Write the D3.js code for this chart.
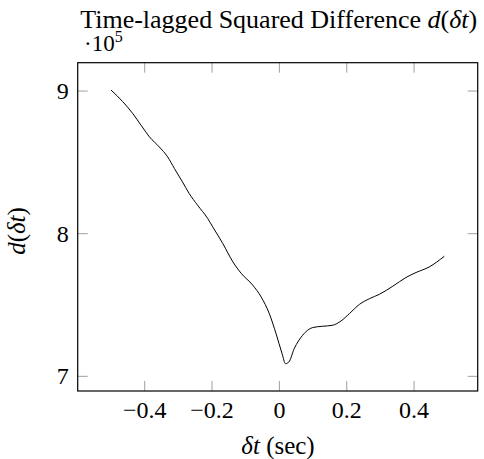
<!DOCTYPE html>
<html>
<head>
<meta charset="utf-8">
<script src="https://cdn.jsdelivr.net/npm/d3@7"></script>
<style>
  body { margin: 0; background: #fff; }
  svg text { font-family: "Liberation Serif", "DejaVu Serif", serif; fill: #000; }
</style>
</head>
<body>
<svg id="chart" width="484" height="459"></svg>
<script>
// lag values (sec) and d(lag) in units of 1e5
const lags = [-0.5, -0.465, -0.436, -0.411, -0.386, -0.357, -0.332, -0.312, -0.288, -0.268,
  -0.243, -0.213, -0.198, -0.168, -0.138, -0.113, -0.079, -0.054, -0.030, -0.010,
  0.008, 0.018, 0.028, 0.044, 0.069, 0.099, 0.128, 0.158, 0.183, 0.208,
  0.238, 0.268, 0.297, 0.337, 0.376, 0.406, 0.445, 0.49];
const dvals = [9.007, 8.925, 8.844, 8.761, 8.679, 8.609, 8.539, 8.458, 8.364, 8.282,
  8.200, 8.107, 8.048, 7.931, 7.802, 7.721, 7.639, 7.556, 7.440, 7.300,
  7.159, 7.089, 7.100, 7.194, 7.288, 7.342, 7.351, 7.358, 7.388, 7.440,
  7.505, 7.545, 7.575, 7.632, 7.693, 7.728, 7.767, 7.842];
const xTicks = [-0.4, -0.2, 0, 0.2, 0.4];
const yTicks = [7, 8, 9];

const svg = d3.select("#chart");
const plotL = 77.7, plotR = 477.7, plotT = 62.7, plotB = 391;

// pgfplots style: enlarge limits by 10% of the data range
const xr = d3.extent(lags), yr = d3.extent(dvals);
const xPad = (xr[1] - xr[0]) * 0.1, yPad = (yr[1] - yr[0]) * 0.1;
const x = d3.scaleLinear().domain([xr[0] - xPad, xr[1] + xPad]).range([plotL, plotR]);
const y = d3.scaleLinear().domain([yr[0] - yPad, yr[1] + yPad]).range([plotB, plotT]);

const tickLen = 10;
const tickCol = "#a0a0a0";
const tickFont = 24;

// ticks on all four sides, pointing inward
const g = svg.append("g");
xTicks.forEach(t => {
  g.append("line").attr("x1", x(t)).attr("x2", x(t)).attr("y1", plotB).attr("y2", plotB - tickLen)
    .attr("stroke", tickCol).attr("stroke-width", 1);
  g.append("line").attr("x1", x(t)).attr("x2", x(t)).attr("y1", plotT).attr("y2", plotT + tickLen)
    .attr("stroke", tickCol).attr("stroke-width", 1);
  svg.append("text").attr("x", x(t)).attr("y", plotB + 27)
    .attr("text-anchor", "middle").attr("font-size", tickFont)
    .text(t === 0 ? "0" : (t < 0 ? "\u2212" : "") + Math.abs(t).toFixed(1));
});
yTicks.forEach(t => {
  g.append("line").attr("x1", plotL).attr("x2", plotL + tickLen).attr("y1", y(t)).attr("y2", y(t))
    .attr("stroke", tickCol).attr("stroke-width", 1);
  g.append("line").attr("x1", plotR).attr("x2", plotR - tickLen).attr("y1", y(t)).attr("y2", y(t))
    .attr("stroke", tickCol).attr("stroke-width", 1);
  svg.append("text").attr("x", plotL - 9).attr("y", y(t) + 8)
    .attr("text-anchor", "end").attr("font-size", tickFont).text(t);
});

// the curve
const line = d3.line().x((d, i) => x(lags[i])).y(d => y(d)).curve(d3.curveMonotoneX);
svg.append("path").datum(dvals).attr("d", line)
  .attr("fill", "none").attr("stroke", "#000").attr("stroke-width", 1);

// frame
svg.append("rect").attr("x", plotL).attr("y", plotT).attr("width", plotR - plotL).attr("height", plotB - plotT)
  .attr("fill", "none").attr("stroke", "#000").attr("stroke-width", 1.2);

// title
const title = svg.append("text").attr("x", (plotL + plotR) / 2 + 1).attr("y", 28)
  .attr("text-anchor", "middle").attr("font-size", 26);
title.append("tspan").text("Time-lagged Squared Difference ");
title.append("tspan").attr("font-style", "italic").text("d");
title.append("tspan").text("(");
title.append("tspan").attr("font-style", "italic").text("δt");
title.append("tspan").text(")");

// scale factor
const sf = svg.append("text").attr("x", 84).attr("y", 51).attr("font-size", 23);
sf.append("tspan").text("·10");
sf.append("tspan").attr("font-size", 16).attr("dy", -9).text("5");

// axis labels
const xl = svg.append("text").attr("x", 278).attr("y", 454)
  .attr("text-anchor", "middle").attr("font-size", 25);
xl.append("tspan").attr("font-style", "italic").text("δt");
xl.append("tspan").text(" (sec)");

const yl = svg.append("text").attr("transform", "translate(25,231) rotate(-90)")
  .attr("text-anchor", "middle").attr("font-size", 25);
yl.append("tspan").attr("font-style", "italic").text("d");
yl.append("tspan").text("(");
yl.append("tspan").attr("font-style", "italic").text("δt");
yl.append("tspan").text(")");
</script>
</body>
</html>
